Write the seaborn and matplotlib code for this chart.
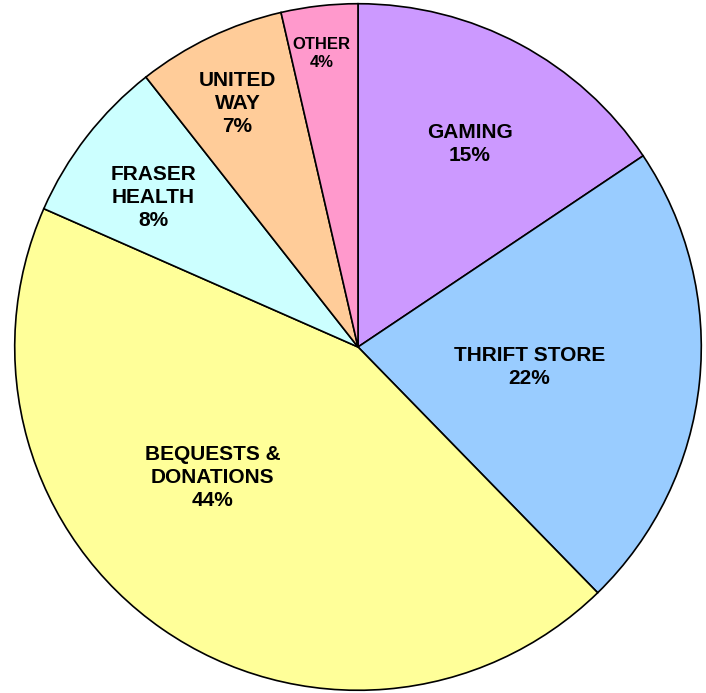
import numpy as np
import seaborn as sns
import matplotlib
matplotlib.use("Agg")
import matplotlib.pyplot as plt

# данные
categories = ["GAMING", "THRIFT STORE", "BEQUESTS &\nDONATIONS", "FRASER\nHEALTH", "UNITED\nWAY", "OTHER"]
shares = [15.6, 22.1, 43.9, 7.8, 7.0, 3.6]
pct_labels = ["15%", "22%", "44%", "8%", "7%", "4%"]
colors = ["#CC99FF", "#99CCFF", "#FFFF99", "#CCFFFF", "#FFCC99", "#FF99CC"]

# позиции подписей (в единицах радиуса)
label_xy = [(0.325, 0.591), (0.499, -0.058), (-0.423, -0.380),
            (-0.597, 0.435), (-0.351, 0.710), (-0.107, 0.855)]
label_size = [15, 15, 15, 15, 15, 12]

sns.set_style("white")
plt.rcParams["font.family"] = ["Liberation Sans", "DejaVu Sans"]

fig = plt.figure(figsize=(7.06, 6.93), dpi=100)
ax = fig.add_axes([13 / 706, 1 / 693, 690 / 706, 690 / 693])
ax.pie(shares, colors=colors, startangle=90, counterclock=False, radius=1,
       wedgeprops=dict(edgecolor="black", linewidth=1.2))

for name, pct, (x, y), fs in zip(categories, pct_labels, label_xy, label_size):
    ax.text(x, y, name + "\n" + pct, ha="center", va="center", fontsize=fs,
            fontweight="bold", linespacing=1.25, color="black")

ax.set_xlim(-1.005, 1.005)
ax.set_ylim(-1.005, 1.005)
ax.set_aspect("equal")
ax.axis("off")

plt.savefig("out.png", dpi=100)
plt.close()
